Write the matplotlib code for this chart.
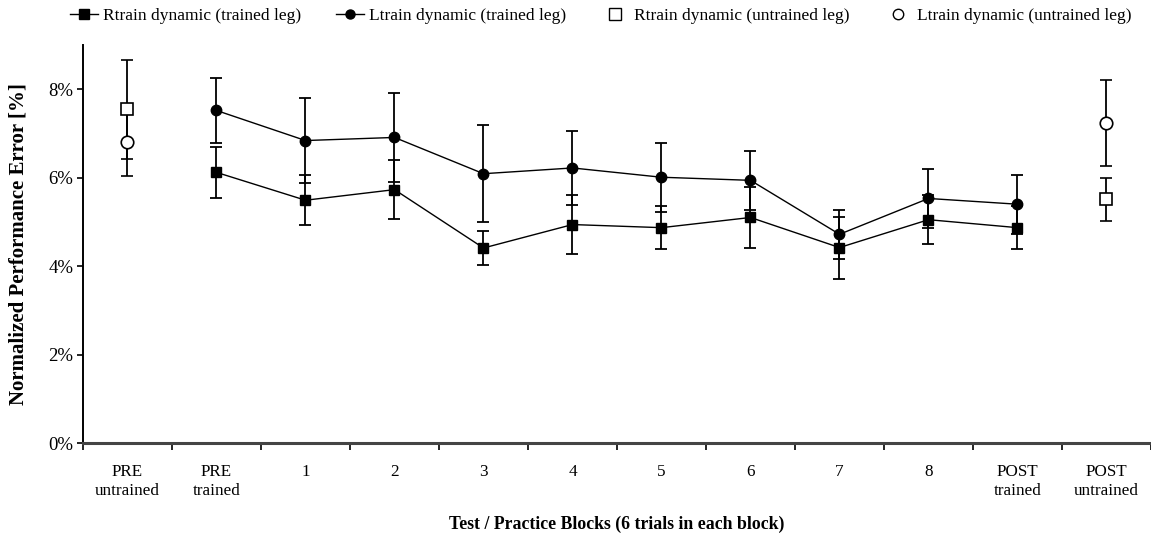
import numpy as np
import matplotlib
matplotlib.use("Agg")
import matplotlib.pyplot as plt
from matplotlib.lines import Line2D

# category labels along the x axis
categories = ["PRE\nuntrained", "PRE\ntrained", "1", "2", "3", "4", "5", "6", "7", "8",
              "POST\ntrained", "POST\nuntrained"]

# trained leg, blocks PRE trained .. POST trained (positions 1..10)
r_trained = [6.12, 5.49, 5.73, 4.41, 4.94, 4.87, 5.10, 4.42, 5.05, 4.87]
r_trained_err = [0.58, 0.56, 0.67, 0.38, 0.67, 0.49, 0.68, 0.70, 0.56, 0.49]
l_trained = [7.52, 6.84, 6.91, 6.09, 6.22, 6.01, 5.94, 4.72, 5.53, 5.40]
l_trained_err = [0.73, 0.96, 1.00, 1.10, 0.83, 0.78, 0.66, 0.55, 0.66, 0.67]

# untrained leg, PRE untrained and POST untrained (positions 0 and 11)
r_untrained = [7.55, 5.51]
r_untrained_err = [1.12, 0.49]
l_untrained = [6.81, 7.24]
l_untrained_err = [0.77, 0.98]

plt.rcParams["font.family"] = ["Liberation Serif", "DejaVu Serif"]

fig = plt.figure(figsize=(11.51, 5.36), dpi=100)
ax = fig.add_axes([0.0721, 0.1735, 0.9279, 0.7425])

x_tr = np.arange(1, 11)
x_un = np.array([0, 11])

ebkw = dict(ecolor="black", elinewidth=1.3, capsize=4, capthick=1.3)

ax.errorbar(x_tr, r_trained, yerr=r_trained_err, color="black", lw=1.0,
            marker="s", ms=7.5, mfc="black", mec="black", zorder=3, **ebkw)
ax.errorbar(x_tr, l_trained, yerr=l_trained_err, color="black", lw=1.0,
            marker="o", ms=7.5, mfc="black", mec="black", zorder=3, **ebkw)
ax.errorbar(x_un, r_untrained, yerr=r_untrained_err, linestyle="none",
            marker="s", ms=9, mfc="white", mec="black", mew=1.2, zorder=4, **ebkw)
ax.errorbar(x_un, l_untrained, yerr=l_untrained_err, linestyle="none",
            marker="o", ms=9, mfc="white", mec="black", mew=1.2, zorder=4, **ebkw)

ax.set_xlim(-0.5, 11.5)
ax.set_ylim(0, 9)

ax.set_yticks([0, 2, 4, 6, 8])
ax.set_yticklabels(["0%", "2%", "4%", "6%", "8%"], fontsize=13.5)
ax.tick_params(axis="y", direction="out", length=4, width=1.2, pad=3)

ax.set_xticks(np.arange(12))
ax.set_xticklabels(categories, fontsize=12.3, linespacing=1.3)
ax.set_xticks(np.arange(-0.5, 12, 1), minor=True)
ax.tick_params(axis="x", which="major", length=0, pad=15)
ax.tick_params(axis="x", which="minor", direction="out", length=5, width=1.2)

for s in ["top", "right"]:
    ax.spines[s].set_visible(False)
ax.spines["left"].set_linewidth(1.4)
ax.spines["bottom"].set_linewidth(2.2)
ax.spines["bottom"].set_color("#444444")

ax.set_xlabel("Test / Practice Blocks (6 trials in each block)", fontsize=12.8,
              fontweight="bold", labelpad=12)
ax.set_ylabel("Normalized Performance Error [%]", fontsize=15,
              fontweight="bold", labelpad=14)

handles = [
    Line2D([], [], color="black", lw=1.0, marker="s", ms=6.5, mfc="black"),
    Line2D([], [], color="black", lw=1.0, marker="o", ms=6.5, mfc="black"),
    Line2D([], [], linestyle="none", marker="s", ms=8, mfc="white", mec="black"),
    Line2D([], [], linestyle="none", marker="o", ms=7.5, mfc="white", mec="black"),
]
labels = ["Rtrain dynamic (trained leg)", "Ltrain dynamic (trained leg)",
          "Rtrain dynamic (untrained leg)", "Ltrain dynamic (untrained leg)"]
fig.legend(handles, labels, loc="center", bbox_to_anchor=(0.522, 0.97), ncol=4,
           frameon=False, fontsize=12.5, handlelength=1.6, handletextpad=0.3,
           columnspacing=2.0)

fig.savefig("out.png", dpi=100)
